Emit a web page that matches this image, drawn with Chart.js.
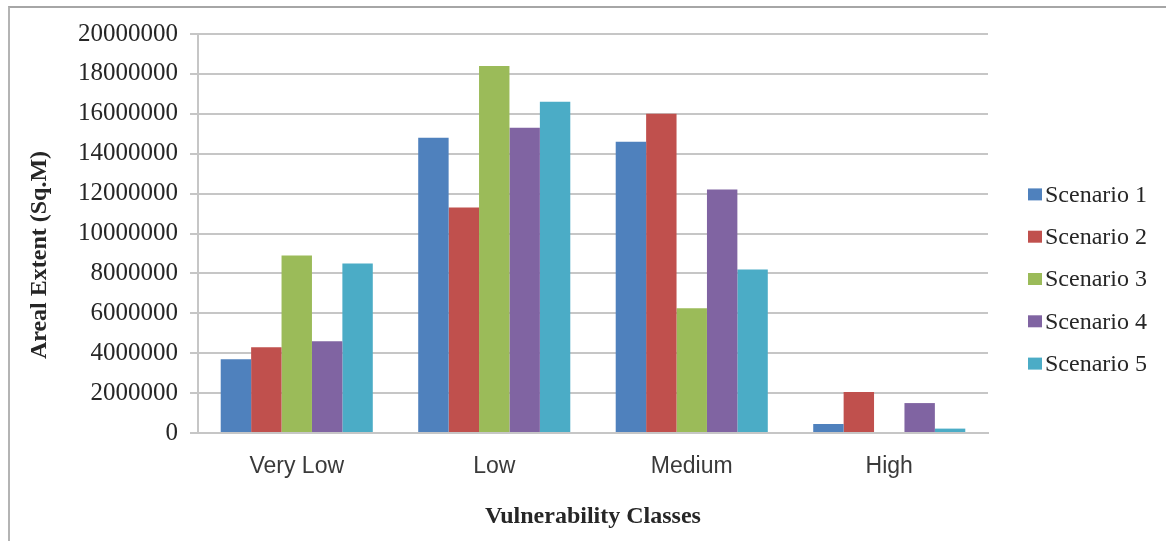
<!DOCTYPE html>
<html>
<head>
<meta charset="utf-8">
<title>Areal Extent by Vulnerability Class</title>
<script src="https://cdn.jsdelivr.net/npm/chart.js@4.4.1/dist/chart.umd.min.js"></script>
<style>
  html, body { margin: 0; padding: 0; background: #ffffff; }
  #wrap { position: relative; width: 1166px; height: 541px; overflow: hidden; }
  #frame {
    position: absolute; left: 8px; top: 6px; width: 1200px; height: 600px;
    border-left: 2px solid #b4b4b4; border-top: 2px solid #a6a6a6;
    pointer-events: none;
  }
  canvas { display: block; }
</style>
</head>
<body>
<div id="wrap">
  <canvas id="chart" width="1166" height="541"></canvas>
  <div id="frame"></div>
</div>
<script>
// Vulnerability classes on the category axis
const categories = ['Very Low', 'Low', 'Medium', 'High'];

// Areal extent (sq. m) per scenario, one value per class
const scenario1 = [3700000, 14800000, 14600000, 450000];
const scenario2 = [4300000, 11300000, 16000000, 2050000];
const scenario3 = [8900000, 18400000, 6250000, 0];
const scenario4 = [4600000, 15300000, 12200000, 1500000];
const scenario5 = [8500000, 16600000, 8200000, 220000];

const seriesNames = ['Scenario 1', 'Scenario 2', 'Scenario 3', 'Scenario 4', 'Scenario 5'];
const seriesColors = ['#4f81bd', '#c0504d', '#9bbb59', '#8064a2', '#4bacc6'];

// Value axis ticks
const yTicks = [0, 2000000, 4000000, 6000000, 8000000, 10000000, 12000000, 14000000, 16000000, 18000000, 20000000];

const yTitle = 'Areal Extent (Sq.M)';
const xTitle = 'Vulnerability Classes';

const serif = "'Liberation Serif', 'Times New Roman', serif";
const sans = "'Liberation Sans', Arial, sans-serif";
const textColor = '#262626';
const gridColor = '#c6c6c6';

const allSeries = [scenario1, scenario2, scenario3, scenario4, scenario5];
const datasets = allSeries.map((values, i) => ({
  label: seriesNames[i],
  data: values,
  backgroundColor: seriesColors[i],
  borderWidth: 0,
  categoryPercentage: 0.77,
  barPercentage: 1.0
}));

const PAD_LEFT = 0;
const PAD_BOTTOM = 6;
const AXIS_X = 198;      // left edge of the plot
const X_AXIS_H = 102;    // height of the category axis band (labels + title)

// Rotated value-axis title, centred on the plot plus category labels
const yTitlePlugin = {
  id: 'yTitlePlugin',
  afterDraw(chart) {
    const ctx = chart.ctx;
    const area = chart.chartArea;
    const labelBottom = area.bottom + 43;
    const cy = (area.top + labelBottom) / 2;
    ctx.save();
    ctx.translate(40, cy);
    ctx.rotate(-Math.PI / 2);
    ctx.font = 'bold 24px ' + serif;
    ctx.fillStyle = textColor;
    ctx.textAlign = 'center';
    ctx.textBaseline = 'middle';
    ctx.fillText(yTitle, 0, 0);
    ctx.restore();
  }
};

// Legend at the right, built from the datasets
const sideLegend = {
  id: 'sideLegend',
  afterDraw(chart) {
    const ctx = chart.ctx;
    const area = chart.chartArea;
    const sets = chart.data.datasets;
    const rowH = 42.3;
    const centerY = (area.top + chart.height - 17) / 2;
    const startY = centerY - rowH * (sets.length - 1) / 2;
    const x0 = area.right + 40;
    ctx.save();
    ctx.font = '24px ' + serif;
    ctx.textBaseline = 'middle';
    ctx.textAlign = 'left';
    sets.forEach((ds, i) => {
      const y = startY + i * rowH;
      ctx.fillStyle = ds.backgroundColor;
      ctx.fillRect(x0, y - 6, 14, 12);
      ctx.fillStyle = textColor;
      ctx.fillText(ds.label, x0 + 17, y + 1);
    });
    ctx.restore();
  }
};

new Chart(document.getElementById('chart'), {
  type: 'bar',
  data: { labels: categories, datasets: datasets },
  options: {
    responsive: false,
    animation: false,
    devicePixelRatio: 1,
    layout: { padding: { left: PAD_LEFT, right: 178, top: 34, bottom: PAD_BOTTOM } },
    plugins: {
      legend: { display: false },
      tooltip: { enabled: false },
      title: { display: false }
    },
    scales: {
      x: {
        afterFit(scale) {
          scale.height = X_AXIS_H;
        },
        grid: { display: false, drawTicks: false },
        border: { display: true, color: gridColor, width: 2 },
        ticks: {
          padding: 20,
          color: '#3a3a3a',
          font: { family: sans, size: 23 },
          maxRotation: 0
        },
        title: {
          display: true,
          text: xTitle,
          color: textColor,
          font: { family: serif, size: 24, weight: 'bold' },
          padding: { top: 23, bottom: 4 }
        }
      },
      y: {
        min: 0,
        max: 20000000,
        afterBuildTicks(scale) {
          scale.ticks = yTicks.map(v => ({ value: v }));
        },
        afterFit(scale) {
          scale.width = AXIS_X - PAD_LEFT;
        },
        grid: {
          color: gridColor,
          lineWidth: 2,
          drawTicks: true,
          tickLength: 8,
          tickColor: gridColor
        },
        border: { display: true, color: gridColor, width: 2 },
        ticks: {
          padding: 12,
          color: textColor,
          font: { family: serif, size: 25 },
          callback: (v) => String(v)
        },
        title: { display: false }
      }
    }
  },
  plugins: [yTitlePlugin, sideLegend]
});
</script>
</body>
</html>
